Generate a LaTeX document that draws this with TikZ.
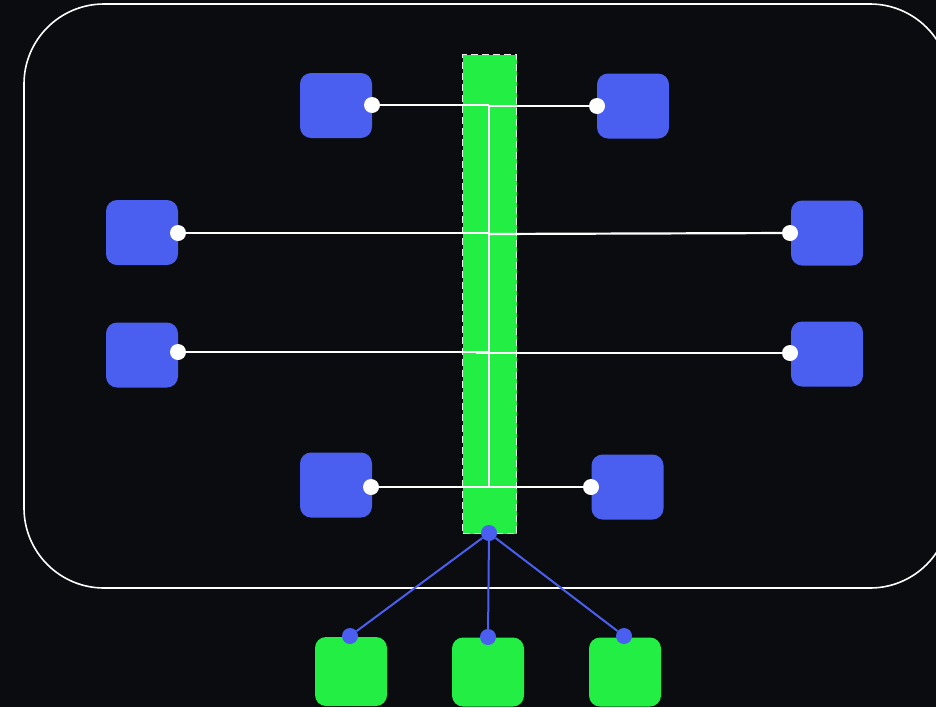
\documentclass[tikz,border=0pt]{standalone}
\usetikzlibrary{calc}
\definecolor{bg}{HTML}{0A0C0F}
\definecolor{bl}{HTML}{4A5FEF}
\definecolor{gr}{HTML}{22EE44}
\begin{document}
\begin{tikzpicture}[x=1pt,y=-1pt,
  box/.style={draw=none,fill=bl,rounded corners=11pt,minimum width=72pt,minimum height=65pt,inner sep=0pt},
  gbox/.style={draw=none,fill=gr,rounded corners=11pt,minimum width=72pt,minimum height=69pt,inner sep=0pt},
  wdot/.style={circle,fill=white,minimum size=16pt,inner sep=0pt},
  bdot/.style={circle,fill=bl,minimum size=16pt,inner sep=0pt},
  wline/.style={draw=white,line width=2.2pt},
  bline/.style={draw=bl,line width=2pt}]
\useasboundingbox[fill=bg] (0,0) rectangle (936,707);
\clip (0,0) rectangle (936,707);
\draw[white,line width=1.6pt,rounded corners=80pt] (24,4) rectangle (950,588);
% bar
\node[fill=gr,draw=white!85!gray,dash pattern=on 7pt off 4pt,line width=1.4pt,minimum width=54pt,minimum height=479pt,inner sep=0pt,anchor=north west] (bar) at (462,54) {};
% blue nodes
\node[box] (tl) at (336,105.5) {};
\node[box] (tr) at (633,106) {};
\node[box] (ml1) at (142,232.5) {};
\node[box] (mr1) at (827,233) {};
\node[box] (ml2) at (142,355) {};
\node[box] (mr2) at (827,354) {};
\node[box] (bl1) at (336,485) {};
\node[box] (br1) at (627.5,487) {};
% green nodes
\node[gbox] (g1) at (351,671.5) {};
\node[gbox] (g2) at (488,672) {};
\node[gbox] (g3) at (625,672) {};
% dots
\node[wdot] (dtl) at (372,105) {};
\node[wdot] (dtr) at (597,106) {};
\node[wdot] (dml1) at (178,233) {};
\node[wdot] (dmr1) at (790,233) {};
\node[wdot] (dml2) at (178,352) {};
\node[wdot] (dmr2) at (790,353) {};
\node[wdot] (dbl) at (371,487) {};
\node[wdot] (dbr) at (591,487) {};
% junctions on bar
\coordinate (jt) at (489,105);
\coordinate (jb) at (489,487);
% white lines
\draw[wline] (dtl) -- (jt);
\draw[wline] (489,106) -- (dtr);
\draw[wline] (dml1) -- (489,233);
\draw[wline] (489,234) -- (dmr1);
\draw[wline] (dml2) -- (489,352);
\draw[wline] (476,353) -- (dmr2);
\draw[wline] (dbl) -- (jb) -- (dbr);
\draw[wline] (jt) -- (jb);
% hub
\node[bdot] (hub) at (489,533) {};
\node[bdot] (b1) at (350,636) {};
\node[bdot] (b2) at (488,637) {};
\node[bdot] (b3) at (624,636) {};
\draw[bline] (hub) -- (b1);
\draw[bline] (hub) -- (b2);
\draw[bline] (hub) -- (b3);
\end{tikzpicture}
\end{document}
